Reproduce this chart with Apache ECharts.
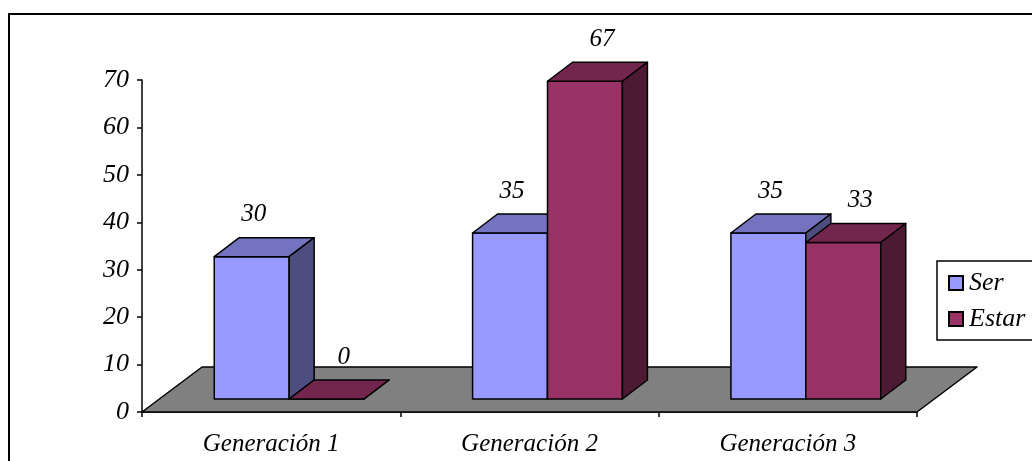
<!DOCTYPE html>
<html>
<head>
<meta charset="utf-8">
<script src="https://cdn.jsdelivr.net/npm/echarts@6/dist/echarts.min.js"></script>
<style>
  html, body { margin: 0; padding: 0; background: #fff; }
  #chart { width: 1032px; height: 461px; }
</style>
</head>
<body>
<div id="chart"></div>
<script>
// Categories and values per series
const categories = ['Generación 1', 'Generación 2', 'Generación 3'];
const serieNames = ['Ser', 'Estar'];
const serValues = [30, 35, 35];
const estarValues = [0, 67, 33];
const yMin = 0, yMax = 70, yStep = 10;

const FONT = '"Liberation Serif", "Times New Roman", serif';

// pseudo-3D geometry (pixels)
const BAR_FRAC = 0.29;   // bar width as a share of the category band
const SHIFT_X = 18, SHIFT_Y = -13; // bars stand a little behind the floor front edge
const DX = 25, DY = -19;  // bar depth
const FDX = 60, FDY = -45; // floor depth

const palettes = [
  { front: '#9999FF', top: '#7373BF', side: '#4D4D80', labelDx: 2 },
  { front: '#993366', top: '#73264D', side: '#4D1A33', labelDx: 17 }
];

function barRenderer(side) {
  const pal = palettes[side];
  return function (params, api) {
    const cat = api.value(0), v = api.value(1);
    const base = api.coord([cat, 0]);
    const top = api.coord([cat, v]);
    const band = api.size([1, 0])[0];
    const bw = band * BAR_FRAC;
    const x0 = base[0] + SHIFT_X + (side === 0 ? -bw : 0);
    const x1 = x0 + bw;
    const yb = base[1] + SHIFT_Y;
    const yt = top[1] + SHIFT_Y;
    const stroke = { stroke: '#000', lineWidth: 1.5, lineJoin: 'round' };
    return {
      type: 'group',
      children: [
        { type: 'polygon', shape: { points: [[x0, yt], [x1, yt], [x1, yb], [x0, yb]] },
          style: Object.assign({ fill: pal.front }, stroke) },
        { type: 'polygon', shape: { points: [[x0, yt], [x0 + DX, yt + DY], [x1 + DX, yt + DY], [x1, yt]] },
          style: Object.assign({ fill: pal.top }, stroke) },
        { type: 'polygon', shape: { points: [[x1, yt], [x1 + DX, yt + DY], [x1 + DX, yb + DY], [x1, yb]] },
          style: Object.assign({ fill: pal.side }, stroke) },
        { type: 'text', style: {
            text: String(v), x: (x0 + x1) / 2 + pal.labelDx, y: yt + DY - 23,
            align: 'center', verticalAlign: 'middle',
            font: 'italic 25px ' + FONT, fill: '#000' } }
      ]
    };
  };
}

function floorRenderer(params) {
  const cs = params.coordSys;
  const xl = cs.x, xr = cs.x + cs.width, yf = cs.y + cs.height;
  return {
    type: 'polygon',
    shape: { points: [[xl, yf], [xr, yf], [xr + FDX, yf + FDY], [xl + FDX, yf + FDY]] },
    style: { fill: '#808080', stroke: '#000', lineWidth: 1.5, lineJoin: 'round' }
  };
}

const chart = echarts.init(document.getElementById('chart'), null, { renderer: 'canvas' });
chart.setOption({
  backgroundColor: '#fff',
  animation: false,
  graphic: [{
    type: 'rect', shape: { x: 9, y: 14, width: 1100, height: 500 },
    style: { fill: 'none', stroke: '#000', lineWidth: 2 }, z: 0
  }],
  grid: { left: 142, right: 115, top: 80, bottom: 49 },
  legend: {
    data: serieNames,
    orient: 'vertical',
    left: 937, top: 261,
    padding: [9, 12, 8, 11],
    itemGap: 10,
    itemWidth: 14, itemHeight: 14,
    icon: 'rect',
    borderColor: '#000', borderWidth: 1.5,
    backgroundColor: '#fff',
    textStyle: { fontFamily: FONT, fontStyle: 'italic', fontSize: 26, color: '#000', padding: [0, 0, 0, 1] }
  },
  xAxis: {
    type: 'category',
    data: categories,
    axisLine: { lineStyle: { color: '#000', width: 1.5 } },
    axisTick: { show: true, length: 5, lineStyle: { color: '#000', width: 1.5 } },
    axisLabel: { margin: 20, color: '#000', fontFamily: FONT, fontStyle: 'italic', fontSize: 25 },
    splitLine: { show: false }
  },
  yAxis: {
    type: 'value', min: yMin, max: yMax, interval: yStep,
    axisLine: { show: true, lineStyle: { color: '#000', width: 1.5 } },
    axisTick: { show: true, length: 5, lineStyle: { color: '#000', width: 1.5 } },
    axisLabel: { margin: 13, color: '#000', fontFamily: FONT, fontStyle: 'italic', fontSize: 26 },
    splitLine: { show: false }
  },
  series: [
    { type: 'custom', z: 1, silent: true, renderItem: floorRenderer, data: [[0, 0]], tooltip: { show: false } },
    { type: 'custom', name: 'Ser', z: 2, renderItem: barRenderer(0),
      itemStyle: { color: palettes[0].front, borderColor: '#000', borderWidth: 1 },
      data: serValues.map((v, i) => [i, v]) },
    { type: 'custom', name: 'Estar', z: 3, renderItem: barRenderer(1),
      itemStyle: { color: palettes[1].front, borderColor: '#000', borderWidth: 1 },
      data: estarValues.map((v, i) => [i, v]) }
  ]
});
</script>
</body>
</html>
